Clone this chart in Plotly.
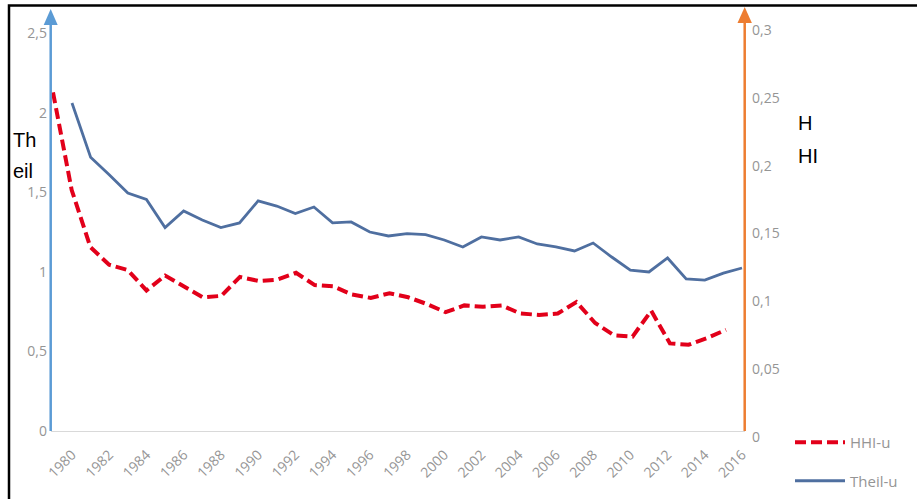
import plotly.graph_objects as go

# ---------------- data ----------------
years = list(range(1980, 2017))
theil_u = [2.06, 1.72, 1.61, 1.495, 1.454, 1.278, 1.382, 1.325, 1.278, 1.307,
           1.445, 1.413, 1.366, 1.407, 1.307, 1.313, 1.25, 1.225, 1.24, 1.234,
           1.2, 1.156, 1.219, 1.2, 1.219, 1.175, 1.156, 1.131, 1.181, 1.093,
           1.011, 0.999, 1.087, 0.955, 0.948, 0.992, 1.024]
hhi_u = [0.254, 0.182, 0.140, 0.127, 0.123, 0.108, 0.119, 0.111, 0.103, 0.104,
         0.118, 0.115, 0.116, 0.121, 0.112, 0.111, 0.105, 0.1025, 0.106, 0.103,
         0.098, 0.092, 0.097, 0.096, 0.097, 0.091, 0.090, 0.091, 0.0995, 0.084,
         0.075, 0.074, 0.093, 0.069, 0.068, 0.073, 0.079]
x_tick_years = years[::2]
x_tick_labels = [str(y) for y in x_tick_years]
left_ticks = [0, 0.5, 1, 1.5, 2, 2.5]
left_tick_labels = ["0", "0,5", "1", "1,5", "2", "2,5"]
right_ticks = [0, 0.05, 0.1, 0.15, 0.2, 0.25, 0.3]
right_tick_labels = ["0", "0,05", "0,1", "0,15", "0,2", "0,25", "0,3"]

# ---------------- layout helpers ----------------
W, H = 917, 499
L, R, T, B = 51, 172, 20, 62
PW = W - L - R
PH = H - T - B


def px(x):
    return (x - L) / PW


def py(y):
    return (H - B - y) / PH


TICK_FONT = dict(family="Open Sans, sans-serif", size=14, color="#959595")
BLUE_AX = "#5b9bd5"
ORANGE_AX = "#ed7d31"

fig = go.Figure()
fig.add_trace(go.Scatter(
    x=years, y=hhi_u, name="HHI-u", mode="lines",
    line=dict(color="#e2001a", width=4, dash="11px,5px"),
    xaxis="x2", yaxis="y2", legendgroup="a"))
fig.add_trace(go.Scatter(
    x=years, y=theil_u, name="Theil-u", mode="lines",
    line=dict(color="#4f6fa0", width=2.8),
    xaxis="x", yaxis="y", legendgroup="b"))

shapes = [
    # left (blue) axis with arrow
    dict(type="line", xref="paper", yref="paper", x0=px(50.7), x1=px(50.7),
         y0=py(431), y1=py(24), line=dict(color=BLUE_AX, width=2.5)),
    dict(type="path", xref="paper", yref="paper",
         path=f"M{px(43.7)},{py(25)} L{px(50.7)},{py(9)} L{px(57.7)},{py(25)} Z",
         fillcolor=BLUE_AX, line=dict(width=0)),
    # right (orange) axis with arrow
    dict(type="line", xref="paper", yref="paper", x0=px(744.7), x1=px(744.7),
         y0=py(431), y1=py(22), line=dict(color=ORANGE_AX, width=2.5)),
    dict(type="path", xref="paper", yref="paper",
         path=f"M{px(737.5)},{py(23)} L{px(744.7)},{py(7)} L{px(751.9)},{py(23)} Z",
         fillcolor=ORANGE_AX, line=dict(width=0)),
    # outer black frame
    dict(type="rect", xref="paper", yref="paper", x0=px(9), x1=px(930),
         y0=py(5.5), y1=py(515), line=dict(color="black", width=2.5)),
]

ann_font = dict(family="Liberation Sans, Arial, sans-serif", size=20, color="black")
annotations = [
    dict(text="Th", x=px(11), y=py(139.5), xref="paper", yref="paper",
         xanchor="left", yanchor="middle", showarrow=False, font=ann_font),
    dict(text="eil", x=px(11), y=py(171), xref="paper", yref="paper",
         xanchor="left", yanchor="middle", showarrow=False, font=ann_font),
    dict(text="H", x=px(796), y=py(123), xref="paper", yref="paper",
         xanchor="left", yanchor="middle", showarrow=False, font=ann_font),
    dict(text="HI", x=px(796), y=py(156), xref="paper", yref="paper",
         xanchor="left", yanchor="middle", showarrow=False, font=ann_font),
]

fig.update_layout(
    width=W, height=H,
    margin=dict(l=L, r=R, t=T, b=B, pad=0, autoexpand=False),
    paper_bgcolor="white", plot_bgcolor="white",
    showlegend=True,
    legend=dict(x=px(790), y=py(426), xanchor="left", yanchor="top",
                font=dict(family="Open Sans, sans-serif", size=15, color="#959595"),
                tracegroupgap=16, itemwidth=50, bgcolor="rgba(0,0,0,0)"),
    xaxis=dict(range=[1978.872, 2016.161], tickmode="array",
               tickvals=x_tick_years, ticktext=x_tick_labels, tickangle=-45,
               tickfont=TICK_FONT, showgrid=False, zeroline=False, showline=False,
               ticks="", ticklabelstandoff=6, automargin=False),
    xaxis2=dict(range=[1979.893, 2017.016], overlaying="x", visible=False),
    yaxis=dict(range=[-0.0377, 2.5817], tickmode="array", tickvals=left_ticks,
               ticktext=left_tick_labels, tickfont=TICK_FONT, showgrid=False,
               zeroline=True, zerolinecolor="#d9d9d9", zerolinewidth=1,
               showline=False, ticks="", ticklabelstandoff=3, automargin=False),
    yaxis2=dict(range=[0, 0.30736], overlaying="y", side="right", anchor="x",
                tickmode="array", tickvals=right_ticks, ticktext=right_tick_labels,
                tickfont=TICK_FONT, showgrid=False, zeroline=False, showline=False,
                ticks="", ticklabelstandoff=6, automargin=False),
    shapes=shapes,
    annotations=annotations,
)

fig.write_html("out.html", config={"displayModeBar": False},
               post_script="document.body.style.margin='0px';")
